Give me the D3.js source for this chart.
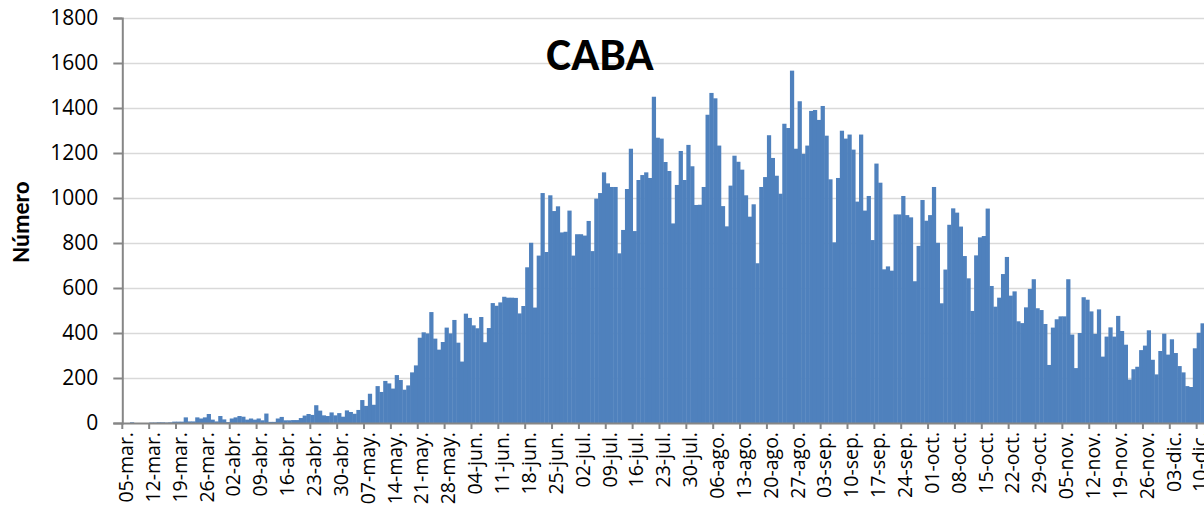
<!DOCTYPE html>
<html>
<head>
<meta charset="utf-8">
<script src="https://cdn.jsdelivr.net/npm/d3@7"></script>
<style>
  html, body { margin: 0; padding: 0; background: #fff; overflow: hidden; }
  svg { display: block; }
</style>
</head>
<body>
<svg id="chart" width="1204" height="514"></svg>
<script>
// casos diarios CABA, desde 05-mar
const startDate = new Date(2020, 2, 5)
const months = ['ene.', 'feb.', 'mar.', 'abr.', 'may.', 'jun.', 'jul.', 'ago.', 'sep.', 'oct.', 'nov.', 'dic.']
const yTicks = [0, 200, 400, 600, 800, 1000, 1200, 1400, 1600, 1800]
const cases = [
  0, 0, 3, 0, 0, 0, 0, 2, 2, 3, 3, 2, 3, 6, 6, 6, 25, 7, 7, 25,
  20, 25, 40, 15, 7, 31, 16, 4, 20, 25, 31, 28, 15, 20, 15, 20, 12, 42, 5, 5,
  20, 27, 12, 12, 13, 13, 22, 33, 40, 36, 79, 55, 34, 31, 47, 34, 44, 28, 56, 49,
  41, 58, 102, 76, 130, 81, 164, 138, 187, 176, 153, 213, 191, 148, 167, 225, 256, 379, 403, 398,
  493, 375, 326, 360, 424, 398, 458, 357, 273, 486, 467, 434, 421, 471, 359, 422, 533, 521, 536, 561,
  557, 557, 556, 487, 520, 692, 801, 513, 744, 1022, 760, 1012, 942, 963, 847, 850, 944, 744, 839, 839,
  833, 898, 764, 997, 1022, 1114, 1065, 1049, 1049, 754, 858, 1040, 1219, 853, 1080, 1102, 1114, 1089, 1450, 1268,
  1264, 1160, 1120, 887, 1058, 1209, 1080, 1236, 1141, 969, 970, 1049, 1370, 1467, 1443, 1233, 964, 874, 1055, 1188,
  1161, 1126, 1012, 917, 972, 710, 1049, 1093, 1279, 1178, 1099, 1019, 1330, 1311, 1566, 1219, 1430, 1196, 1233, 1387,
  1391, 1347, 1409, 1277, 1083, 803, 1089, 1299, 1264, 1282, 1215, 984, 1282, 944, 1009, 813, 1153, 1068, 683, 696,
  677, 927, 927, 1009, 924, 914, 630, 787, 991, 899, 924, 1049, 801, 532, 682, 881, 954, 935, 873, 742,
  643, 498, 745, 825, 831, 953, 609, 517, 557, 662, 738, 566, 585, 452, 444, 514, 596, 639, 510, 502,
  440, 258, 424, 461, 474, 474, 639, 393, 244, 400, 559, 548, 496, 396, 505, 295, 384, 425, 384, 476,
  409, 348, 193, 239, 250, 324, 344, 412, 281, 216, 320, 397, 304, 372, 311, 253, 225, 164, 160, 332,
  401, 443
]

const svg = d3.select('#chart')
const plotLeft = 122.3
const dayW = 3.837
const totalDays = 292   // el eje sigue más allá del borde
const plotTop = 18
const plotBottom = 423

const days = d3.range(totalDays).map(i => d3.timeDay.offset(startDate, i))
const fmt = d => `${String(d.getDate()).padStart(2, '0')}-${months[d.getMonth()]}`

const x = d3.scaleBand()
  .domain(days)
  .range([plotLeft, plotLeft + dayW * totalDays])
  .padding(0)
const y = d3.scaleLinear()
  .domain([0, 1800])
  .range([plotBottom, plotTop])

const font = 'Carlito, Lato, "Open Sans", sans-serif'
const tickFont = '"Open Sans", Lato, sans-serif'

// grilla
svg.append('g')
  .selectAll('line')
  .data(yTicks.filter(v => v > 0))
  .enter()
  .append('line')
  .attr('x1', plotLeft)
  .attr('x2', 1204)
  .attr('y1', d => Math.round(y(d)) + 0.5)
  .attr('y2', d => Math.round(y(d)) + 0.5)
  .attr('stroke', '#d9d9d9')
  .attr('stroke-width', 1.5)

// barras
svg.append('g')
  .selectAll('rect')
  .data(cases)
  .enter()
  .append('rect')
  .attr('x', (d, i) => x(days[i]))
  .attr('width', x.bandwidth() + 0.4)
  .attr('y', d => y(d))
  .attr('height', d => plotBottom - y(d))
  .attr('fill', '#4f81bd')

// eje y
const yAxis = d3.axisLeft(y)
  .tickValues(yTicks)
  .tickFormat(d => String(d))
  .tickSize(9)
  .tickPadding(15)
svg.append('g')
  .attr('transform', `translate(${plotLeft},0)`)
  .call(yAxis)
  .call(g => g.selectAll('path, line').attr('stroke', '#868686').attr('stroke-width', 2))
  .call(g => g.selectAll('text')
    .attr('font-family', tickFont)
    .attr('font-size', 21)
    .attr('fill', '#000'))

// eje x
const weekDays = days.filter((d, i) => i % 7 === 0)
const xAxis = d3.axisBottom(x)
  .tickValues(weekDays)
  .tickFormat(fmt)
  .tickSize(0)
const gx = svg.append('g')
  .attr('transform', `translate(0,${plotBottom})`)
  .call(xAxis)
gx.select('.domain')
  .attr('stroke', '#868686')
  .attr('stroke-width', 2)
gx.selectAll('text')
  .attr('font-family', tickFont)
  .attr('font-size', 19.5)
  .attr('fill', '#000')
  .attr('text-anchor', 'end')
  .attr('transform', 'rotate(-90)')
  .attr('x', -9)
  .attr('y', 2)
  .attr('dy', '0.35em')
// marcas cada 7 días en el borde de la categoría
gx.selectAll('.wk')
  .data(weekDays)
  .enter()
  .append('line')
  .attr('class', 'wk')
  .attr('x1', d => x(d))
  .attr('x2', d => x(d))
  .attr('y1', 0)
  .attr('y2', 6)
  .attr('stroke', '#868686')
  .attr('stroke-width', 2)

// título
svg.append('text')
  .attr('x', 600)
  .attr('y', 70)
  .attr('text-anchor', 'middle')
  .attr('font-family', font)
  .attr('font-weight', 'bold')
  .attr('font-size', 47)
  .text('CABA')

svg.append('text')
  .attr('transform', 'translate(29,222) rotate(-90)')
  .attr('text-anchor', 'middle')
  .attr('font-family', font)
  .attr('font-weight', 'bold')
  .attr('font-size', 24)
  .text('Número')
</script>
</body>
</html>
